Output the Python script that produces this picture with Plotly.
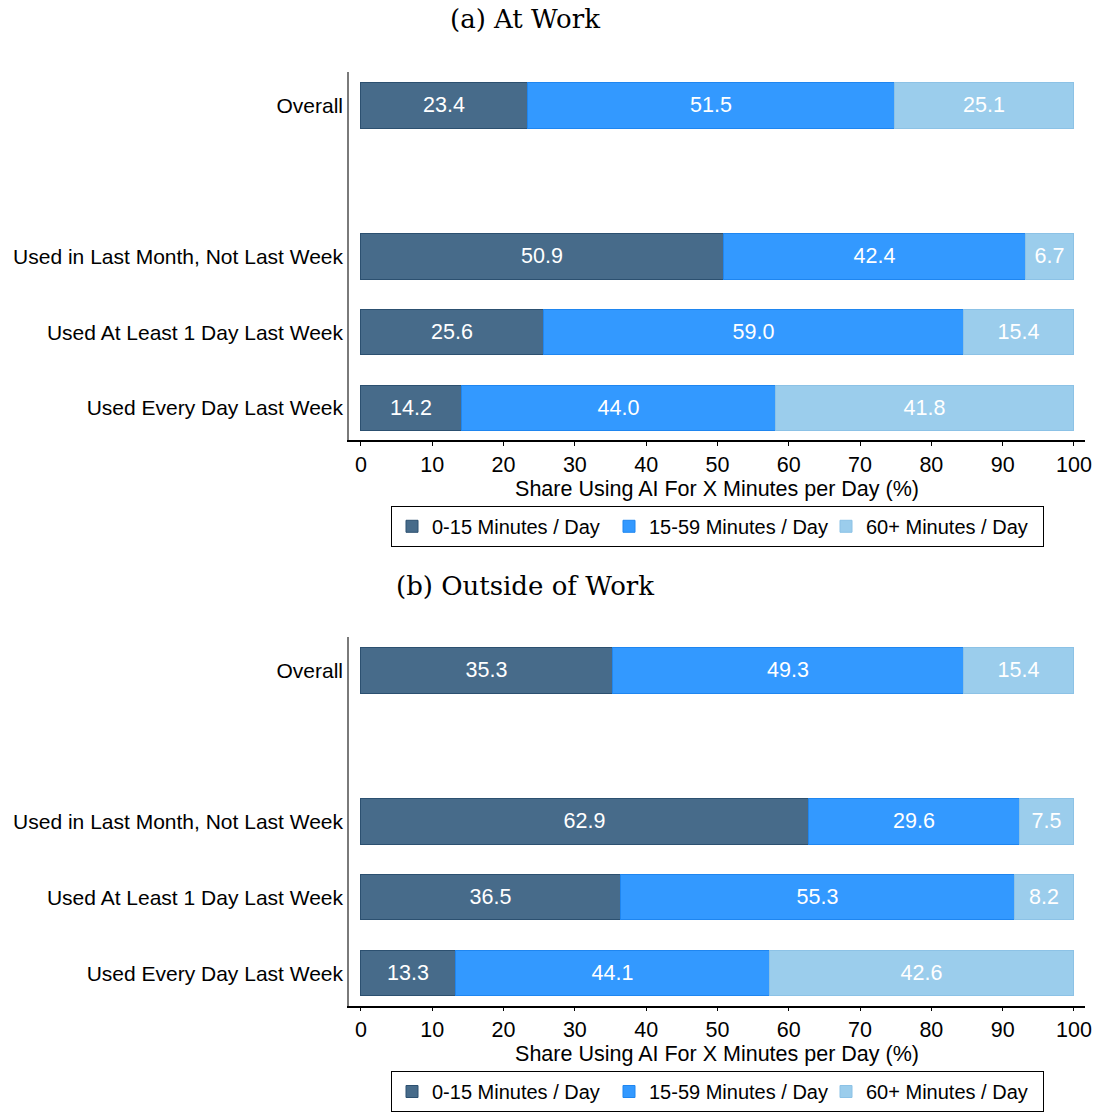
import plotly.graph_objects as go

# Row labels, top to bottom
categories = [
    "Overall",
    "Used in Last Month, Not Last Week",
    "Used At Least 1 Day Last Week",
    "Used Every Day Last Week",
]
# Vertical slot of each row (gap between Overall and the others)
row_pos = [4, 2, 1, 0]

series_names = ["0-15 Minutes / Day", "15-59 Minutes / Day", "60+ Minutes / Day"]

# Panel (a): at work, shares per row for each time bucket
work_0_15 = [23.4, 50.9, 25.6, 14.2]
work_15_59 = [51.5, 42.4, 59.0, 44.0]
work_60_plus = [25.1, 6.7, 15.4, 41.8]

# Panel (b): outside of work
home_0_15 = [35.3, 62.9, 36.5, 13.3]
home_15_59 = [49.3, 29.6, 55.3, 44.1]
home_60_plus = [15.4, 7.5, 8.2, 42.6]

x_ticks = [0, 10, 20, 30, 40, 50, 60, 70, 80, 90, 100]

fills = ["#476B8A", "#3399FF", "#9BCDEC"]
edges = ["#2C5070", "#1F86F0", "#8CC2E6"]

W, H = 1100, 1112
SANS = "Liberation Sans, Arial, sans-serif"
SERIF = "DejaVu Serif, serif"
FS = 21.5

fig = go.Figure()

panels = [
    ([work_0_15, work_15_59, work_60_plus], "x", "y", "legend"),
    ([home_0_15, home_15_59, home_60_plus], "x2", "y2", "legend2"),
]
for vals, xa, ya, lg in panels:
    for name, v, fc, ec in zip(series_names, vals, fills, edges):
        fig.add_trace(go.Bar(
            x=v, y=row_pos, orientation="h", name=name,
            marker=dict(color=fc, line=dict(color=ec, width=1)),
            width=0.6,
            text=[f"{t:.1f}" for t in v],
            textposition="inside", insidetextanchor="middle",
            constraintext="none",
            textfont=dict(family=SANS, size=FS, color="white"),
            xaxis=xa, yaxis=ya, legend=lg,
            hoverinfo="skip",
        ))

x0, x1 = 349 / W, 1085 / W
x_range = [-1.68, 101.55]
y_range = [-0.43, 4.45]

xaxis_common = dict(
    range=x_range, domain=[x0, x1], tickvals=x_ticks,
    ticks="outside", ticklen=4, tickwidth=1.2, tickcolor="black",
    showline=True, linecolor="black", linewidth=1.5,
    showgrid=False, zeroline=False, automargin=False,
    tickfont=dict(family=SANS, size=FS, color="black"),
    title=dict(text="Share Using AI For X Minutes per Day (%)",
               font=dict(family=SANS, size=FS, color="black"), standoff=0),
)
yaxis_common = dict(
    range=y_range, tickvals=row_pos, ticktext=categories,
    ticks="", showline=True, linecolor="#7a7a7a", linewidth=1.5,
    showgrid=False, zeroline=False, automargin=False,
    tickfont=dict(family=SANS, size=21, color="black"),
)

legend_common = dict(
    orientation="h", xanchor="center", x=717.5 / W, yanchor="top",
    traceorder="normal",
    bordercolor="black", borderwidth=1, bgcolor="white",
    font=dict(family=SANS, size=20, color="black"),
    entrywidth=172, entrywidthmode="pixels",
)

fig.update_layout(
    width=W, height=H,
    margin=dict(l=0, r=0, t=0, b=0),
    paper_bgcolor="white", plot_bgcolor="white",
    barmode="stack", bargap=0,
    xaxis=dict(**xaxis_common, anchor="y"),
    yaxis=dict(**yaxis_common, domain=[1 - 443 / H, 1 - 72 / H], anchor="x"),
    xaxis2=dict(**xaxis_common, anchor="y2"),
    yaxis2=dict(**yaxis_common, domain=[1 - 1012 / H, 1 - 641 / H], anchor="x2"),
    legend=dict(**legend_common, y=1 - 509 / H),
    legend2=dict(**legend_common, y=1 - 1078 / H),
    showlegend=True,
    annotations=[
        dict(text="(a) At Work", x=525 / W, y=1 - 19 / H, xref="paper", yref="paper",
             xanchor="center", yanchor="middle", showarrow=False,
             font=dict(family=SERIF, size=26, color="black")),
        dict(text="(b) Outside of Work", x=525 / W, y=1 - 590 / H, xref="paper", yref="paper",
             xanchor="center", yanchor="middle", showarrow=False,
             font=dict(family=SERIF, size=26, color="black")),
    ],
)

fig.write_html("out.html")
